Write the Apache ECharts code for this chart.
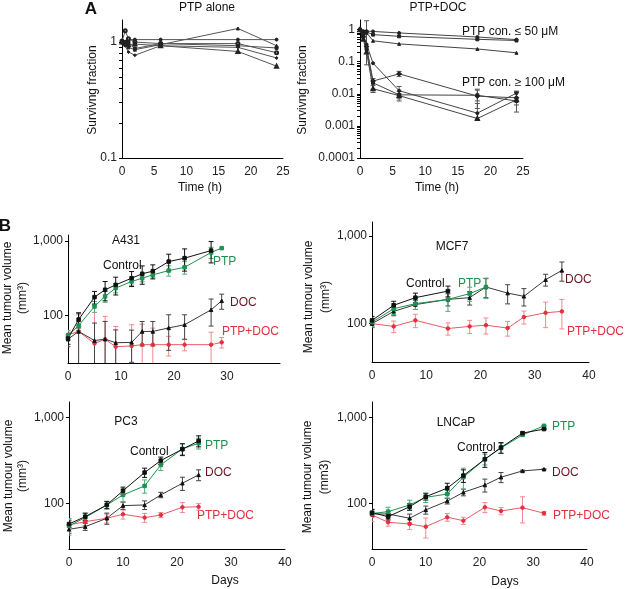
<!DOCTYPE html>
<html>
<head>
<meta charset="utf-8">
<script src="https://cdn.jsdelivr.net/npm/echarts@6/dist/echarts.min.js"></script>
<style>
  html, body { margin: 0; padding: 0; background: #fff; }
  #chart { width: 625px; height: 589px; }
</style>
</head>
<body>
<div id="chart"></div>
<script>
// ---- panel A: surviving fraction vs time (h) ----
var hours = [0, 0.5, 1, 2, 6, 18, 24];
var alone1 = [1.0, 1.0, 1.05, 1.05, 1.05, 1.05, 1.05];
var alone2 = [1.0, 0.95, 0.9, 0.86, 0.95, 1.31, 0.93];
var alone3 = [1.02, 1.25, 1.07, 1.0, 0.97, 0.97, 0.81];
var alone4 = [1.0, 1.0, 1.0, 0.88, 0.97, 0.93, 0.89];
var alone5 = [0.98, 0.93, 0.82, 0.77, 0.93, 0.9, 0.73];
var alone6 = [1.0, 0.98, 0.95, 0.96, 0.93, 0.83, 0.62];

// PTP+DOC, low PTP concentrations
var lowDoc1 = [1.0, 0.9, 0.9, 0.88, 0.79, 0.59, 0.49];
var lowDoc2 = [1.0, 0.85, 0.85, 0.7, 0.62, 0.5, 0.46];
var lowDoc3 = [1.0, 0.75, 0.8, 0.45, 0.36, 0.25, 0.19];
// PTP+DOC, high PTP concentrations
var highDoc1 = [1.0, 0.7, 0.35, 0.09, 0.0125, 0.0025, 0.0105];
var highDoc2 = [1.0, 0.6, 0.3, 0.025, 0.042, 0.0085, 0.0075];
var highDoc3 = [1.0, 0.6, 0.25, 0.022, 0.0093, 0.009, 0.006];
var highDoc4 = [1.0, 0.5, 0.2, 0.0144, 0.0088, 0.0017, 0.0065];
// error bars [time, low, high]
var highErr1 = [[1, 0.08, 1.9], [6, 0.009, 0.017], [18, 0.0016, 0.005], [24, 0.0075, 0.012]];
var highErr2 = [[6, 0.035, 0.05], [18, 0.0035, 0.014], [24, 0.0045, 0.012]];
var highErr3 = [[2, 0.014, 0.03], [6, 0.007, 0.012], [18, 0.006, 0.013], [24, 0.0027, 0.011]];
var highErr4 = [[2, 0.011, 0.018], [6, 0.006, 0.01]];

// ---- panel B: tumour volume (mm3) vs days ----
var a431Days = [0, 2, 5, 7, 9, 12, 14, 16, 19, 22, 27, 29];
var a431Control = [49, 88, 176, 221, 257, 316, 362, 393, 528, 587, 742];
var a431ControlErr = [8, 20, 34, 64, 69, 72, 100, 84, 135, 194, 236];
var a431Ptp = [54, 73, 132, 180, 233, 285, 316, 350, 400, 443, 700, 800];
var a431PtpErr = [8, 10, 22, 30, 32, 31, 34, 30, 63, 85, 120, 0];
var a431Doc = [48, 61, 46, 48, 43, 43.5, 61, 61, 68, 75, 119, 157];
var a431DocErr = [10, 47, 33, 35, 21, 20, 22, 22, 34, 27, 47, 36];
var a431Combo = [55, 61, 42, 48, 38, 39, 40.5, 40.5, 40.5, 40.5, 40.5, 43.5];
var a431ComboErr = [8, 41, 97, 49, 33, 36, 36, 27, 12, 7, 19, 7];

var mcfDays = [0, 4, 8, 14, 18, 21, 25, 28, 32, 35];
var mcfControl = [109, 162, 198, 235];
var mcfControlErr = [12, 18, 25, 33];
var mcfPtp = [104, 148, 169, 189, 220, 262];
var mcfPtpErr = [12, 21, 24, 51, 40, 69];
var mcfDoc = [100, 138, 165, 189, 198, 262, 223, 205, 317, 405];
var mcfDocErr = [10, 15, 20, 30, 35, 64, 55, 46, 49, 100];
var mcfCombo = [100, 93, 109, 88, 93, 96, 89, 119, 133, 138];
var mcfComboErr = [8, 14, 19, 14, 16, 20, 17, 20, 43, 51];

var pcDays = [0, 3, 7, 10, 14, 17, 21, 24];
var pcControl = [57.3, 69.8, 95.5, 140, 228, 314, 426, 532];
var pcControlErr = [5, 7, 9, 14, 28, 31, 67, 78];
var pcPtp = [54.5, 68, 95.5, 125, 159, 280, 430, 500];
var pcPtpErr = [12, 8, 10, 21, 28, 40, 63, 72];
var pcDoc = [49.7, 53.3, 66.8, 93.8, 95.5, 125, 171, 214];
var pcDocErr = [5, 5, 10, 9, 11, 9, 30, 31];
var pcCombo = [55.8, 61, 66.8, 74.4, 68, 73, 89.8, 91];
var pcComboErr = [9, 6, 8, 9, 8, 5, 12, 8];

var lnDays = [0, 3, 7, 10, 14, 17, 21, 24, 28, 32];
var lnControl = [77.7, 69.8, 91, 119, 150, 210, 326, 446, 656, 731];
var lnControlErr = [7, 6, 8, 10, 21, 35, 64, 63, 20, 5];
var lnPtp = [76, 79.8, 95.5, 117, 128, 201, 326, 440, 625, 798];
var lnPtpErr = [8, 10, 13, 15, 13, 55, 47, 60, 5, 5];
var lnDoc = [75, 75, 66.8, 83.6, 106, 134, 163, 201, 238, 249];
var lnDocErr = [5, 5, 8, 9, 8, 12, 28, 27, 5, 3];
var lnCombo = [73, 60, 57.3, 53.3, 68.7, 62.7, 89.8, 81.3, 88.9, 76.4];
var lnComboErr = [12, 6, 8, 14, 7, 6, 12, 8, 30, 4];

// tick values
var volumeLabels = [100, 1000];
var dayLabels = [0, 10, 20, 30, 40];
var aloneTicks = [0.1, 0.2, 0.3, 0.4, 0.5, 0.6, 0.7, 0.8, 0.9, 1];
var docLabels = [0.0001, 0.001, 0.01, 0.1, 1];

var FONT = 'Liberation Sans, Arial, sans-serif';
var BLACK = '#111';
var GREEN = '#1f9150';
var GREEN_ERR = '#4fae74';
var RED = '#e32f3c';
var RED_LINE = '#ea5a63';
var RED_ERR = '#f08990';
var DOC_LINE = '#3a3a3a';
var DOC_TEXT = '#6b1522';

var chart = echarts.init(document.getElementById('chart'));

var grids = [], xAxes = [], yAxes = [], series = [];

function fmtNum(v) {
  if (v >= 1000) return '1,000';
  return String(Number(v.toPrecision(2)));
}

function addPanel(box, xOpt, yOpt) {
  var k = grids.length;
  grids.push(box);
  xAxes.push(Object.assign({
    gridIndex: k, type: 'value', splitLine: { show: false },
    axisLine: { lineStyle: { color: '#000', width: 1 } },
    axisTick: { show: false },
    axisLabel: { color: '#222', fontSize: 12, fontFamily: FONT, margin: 8 }
  }, xOpt));
  yAxes.push(Object.assign({
    gridIndex: k, type: 'log', logBase: 10, splitLine: { show: false },
    axisLine: { show: true, lineStyle: { color: '#000', width: 1 } }
  }, yOpt));
  return k;
}

function pairs(xs, ys) {
  return ys.map(function (v, i) { return [xs[i], v]; });
}

function errBars(xs, ys, es) {
  var out = [];
  ys.forEach(function (v, i) {
    if (!es[i]) return;
    var lo = v - es[i];
    out.push([xs[i], lo > 0 ? lo : 1e-6, v + es[i]]);
  });
  return out;
}

function renderErr(params, api) {
  var x = api.value(0);
  var p0 = api.coord([x, api.value(1)]);
  var p1 = api.coord([x, api.value(2)]);
  var w = 2.5;
  var c = api.visual('color');
  function seg(x1, y1, x2, y2) {
    return { type: 'line', shape: { x1: x1, y1: y1, x2: x2, y2: y2 }, style: { stroke: c, lineWidth: 1 } };
  }
  return {
    type: 'group',
    children: [
      seg(p0[0], p0[1], p1[0], p1[1]),
      seg(p0[0] - w, p0[1], p0[0] + w, p0[1]),
      seg(p1[0] - w, p1[1], p1[0] + w, p1[1])
    ]
  };
}

function addErr(k, data, color) {
  series.push({
    type: 'custom', xAxisIndex: k, yAxisIndex: k, data: data, clip: true,
    encode: { x: 0, y: [1, 2] }, renderItem: renderErr,
    itemStyle: { color: color }, silent: true, z: 2
  });
}

function addLine(k, data, color, lineColor, symbol, size) {
  series.push({
    type: 'line', xAxisIndex: k, yAxisIndex: k, data: data,
    symbol: symbol, symbolSize: size || 3.5, showSymbol: true,
    lineStyle: { color: lineColor || color, width: 1 },
    itemStyle: { color: color, borderColor: color, borderWidth: 1 },
    z: 3, silent: true
  });
}

// ---- panel A left: PTP alone ----
var pA = addPanel({ left: 122, top: 20, width: 161, height: 138 },
  { min: 0, max: 25, interval: 5 },
  {
    min: 0.1, max: 1.55,
    axisTick: { show: true, length: 3, customValues: aloneTicks, lineStyle: { color: '#000' } },
    axisLabel: { customValues: [0.1, 1], formatter: fmtNum, color: '#222', fontSize: 12, fontFamily: FONT, margin: 5 }
  });
[[alone1, 'circle'], [alone2, 'triangle'], [alone3, 'emptyCircle'], [alone4, 'rect'],
 [alone5, 'diamond'], [alone6, 'emptyTriangle']].forEach(function (s) {
  addLine(pA, pairs(hours, s[0]), '#222', '#555', s[1], 3);
});

// ---- panel A right: PTP+DOC ----
var docTicks = [];
for (var e = -4; e < 0; e++) {
  for (var m = 1; m < 10; m++) docTicks.push(m * Math.pow(10, e));
}
docTicks.push(1);
var pB = addPanel({ left: 360, top: 20, width: 163, height: 138 },
  { min: 0, max: 25, interval: 5 },
  {
    min: 0.0001, max: 2,
    axisTick: { show: true, length: 3, customValues: docTicks, lineStyle: { color: '#000' } },
    axisLabel: { customValues: docLabels, formatter: fmtNum, color: '#222', fontSize: 12, fontFamily: FONT, margin: 5 }
  });
[highErr1, highErr2, highErr3, highErr4].forEach(function (d) { addErr(pB, d, '#555'); });
[[lowDoc1, 'circle'], [lowDoc2, 'rect'], [lowDoc3, 'triangle'],
 [highDoc1, 'circle'], [highDoc2, 'emptyDiamond'], [highDoc3, 'rect'], [highDoc4, 'emptyTriangle']].forEach(function (s) {
  addLine(pB, pairs(hours, s[0]), '#222', '#444', s[1], 3);
});

// ---- panel B: tumour growth ----
function volPanel(box, yMin, yMax, xLabels) {
  return addPanel(box,
    { min: 0, max: 40, axisLabel: { customValues: xLabels, color: '#222', fontSize: 12, fontFamily: FONT, margin: 8 } },
    {
      min: yMin, max: yMax,
      axisTick: { show: true, length: 3, customValues: volumeLabels, lineStyle: { color: '#000' } },
      axisLabel: { customValues: volumeLabels, formatter: fmtNum, color: '#222', fontSize: 12, fontFamily: FONT, margin: 5 }
    });
}

function addGroup(k, days, ctl, ctlE, ptp, ptpE, doc, docE, combo, comboE) {
  addErr(k, errBars(days, combo, comboE), RED_ERR);
  addErr(k, errBars(days, doc, docE), '#444');
  addErr(k, errBars(days, ptp, ptpE), GREEN_ERR);
  addErr(k, errBars(days, ctl, ctlE), BLACK);
  addLine(k, pairs(days, combo), RED, RED_LINE, 'circle', 3.5);
  addLine(k, pairs(days, doc), BLACK, DOC_LINE, 'triangle', 3.5);
  addLine(k, pairs(days, ptp), GREEN, GREEN, 'rect', 3.5);
  addLine(k, pairs(days, ctl), BLACK, BLACK, 'rect', 3.5);
}

var pC = volPanel({ left: 68, top: 235, width: 212, height: 128 }, 23, 1200, [0, 10, 20, 30]);
addGroup(pC, a431Days, a431Control, a431ControlErr, a431Ptp, a431PtpErr, a431Doc, a431DocErr, a431Combo, a431ComboErr);

var pD = volPanel({ left: 372, top: 222, width: 217, height: 140 }, 36.5, 1445, dayLabels);
addGroup(pD, mcfDays, mcfControl, mcfControlErr, mcfPtp, mcfPtpErr, mcfDoc, mcfDocErr, mcfCombo, mcfComboErr);

var pE = volPanel({ left: 69, top: 402, width: 216, height: 147 }, 29.3, 1512, dayLabels);
addGroup(pE, pcDays, pcControl, pcControlErr, pcPtp, pcPtpErr, pcDoc, pcDocErr, pcCombo, pcComboErr);

var pF = volPanel({ left: 372, top: 402, width: 215, height: 147 }, 29.3, 1512, dayLabels);
addGroup(pF, lnDays, lnControl, lnControlErr, lnPtp, lnPtpErr, lnDoc, lnDocErr, lnCombo, lnComboErr);

// ---- text ----
function txt(x, y, s, opt) {
  opt = opt || {};
  return {
    type: 'text', x: x, y: y, rotation: opt.rot || 0, silent: true,
    style: {
      text: s, fill: opt.color || '#111', font: (opt.weight || 'normal') + ' ' + (opt.size || 12) + 'px ' + FONT,
      textAlign: opt.align || 'center', textVerticalAlign: 'middle'
    }
  };
}
var R = Math.PI / 2;
var texts = [
  txt(91, 9, 'A', { weight: 'bold', size: 17 }),
  txt(207, 8, 'PTP alone'),
  txt(93, 90, 'Survivng fraction', { rot: R }),
  txt(200, 188, 'Time (h)'),
  txt(438, 8, 'PTP+DOC'),
  txt(303, 90, 'Survivng fraction', { rot: R }),
  txt(437, 188, 'Time (h)'),
  txt(462, 32, 'PTP con. \u2264 50 \u03bcM', { align: 'left' }),
  txt(462, 83, 'PTP con. \u2265 100 \u03bcM', { align: 'left' }),

  txt(5, 226, 'B', { weight: 'bold', size: 17 }),
  txt(8, 298, 'Mean tumour volume', { rot: R }),
  txt(23, 298, '(mm\u00b3)', { rot: R }),
  txt(126, 241, 'A431'),
  txt(103, 266, 'Control', { align: 'left' }),
  txt(213, 262, 'PTP', { align: 'left', color: GREEN }),
  txt(230, 303, 'DOC', { align: 'left', color: DOC_TEXT }),
  txt(222, 332, 'PTP+DOC', { align: 'left', color: RED }),

  txt(309, 297, 'Mean tumour volume', { rot: R }),
  txt(326, 297, '(mm\u00b3)', { rot: R }),
  txt(452, 247, 'MCF7'),
  txt(406, 284, 'Control', { align: 'left' }),
  txt(458, 284, 'PTP', { align: 'left', color: GREEN }),
  txt(565, 280, 'DOC', { align: 'left', color: DOC_TEXT }),
  txt(567, 332, 'PTP+DOC', { align: 'left', color: RED }),

  txt(9, 476, 'Mean tumour volume', { rot: R }),
  txt(23, 476, '(mm\u00b3)', { rot: R }),
  txt(126, 422, 'PC3'),
  txt(130, 452, 'Control', { align: 'left' }),
  txt(205, 446, 'PTP', { align: 'left', color: GREEN }),
  txt(205, 473, 'DOC', { align: 'left', color: DOC_TEXT }),
  txt(197, 516, 'PTP+DOC', { align: 'left', color: RED }),
  txt(225, 581, 'Days'),

  txt(308, 477, 'Mean tumour volume', { rot: R }),
  txt(325, 477, '(mm3)', { rot: R }),
  txt(456, 423, 'LNCaP'),
  txt(457, 448, 'Control', { align: 'left' }),
  txt(552, 427, 'PTP', { align: 'left', color: GREEN }),
  txt(552, 473, 'DOC', { align: 'left', color: DOC_TEXT }),
  txt(553, 516, 'PTP+DOC', { align: 'left', color: RED }),
  txt(505, 582, 'Days')
];

var option = {
  animation: false,
  backgroundColor: '#fff',
  textStyle: { fontFamily: FONT },
  grid: grids,
  xAxis: xAxes,
  yAxis: yAxes,
  series: series,
  graphic: texts
};
chart.setOption(option);
</script>
</body>
</html>
